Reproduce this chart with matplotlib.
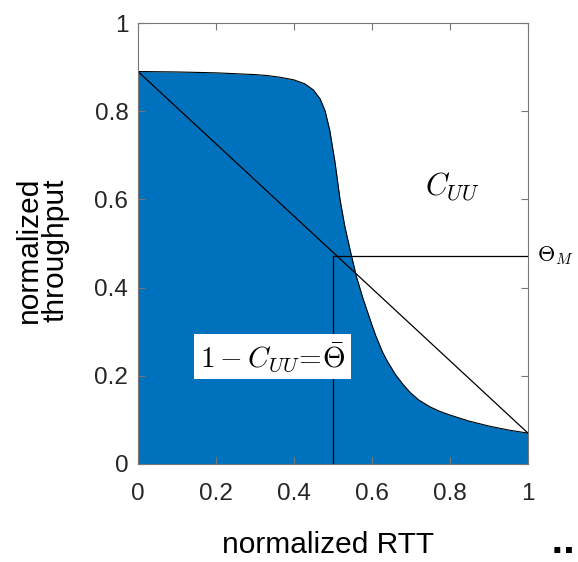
import matplotlib
matplotlib.use('Agg')
import matplotlib.pyplot as plt

# 曲线数据
rtt = [0, 0.1, 0.2, 0.25, 0.3, 0.33, 0.364, 0.4, 0.428, 0.45, 0.467, 0.48, 0.492,
       0.505, 0.518, 0.53, 0.544, 0.56, 0.577, 0.6, 0.61, 0.628, 0.64, 0.66, 0.68,
       0.697, 0.72, 0.75, 0.775, 0.8, 0.85, 0.9, 0.95, 1.0]
thr = [0.89, 0.889, 0.887, 0.885, 0.883, 0.881, 0.877, 0.871, 0.862, 0.848, 0.828,
       0.8, 0.755, 0.685, 0.6, 0.54, 0.485, 0.425, 0.375, 0.315, 0.29, 0.252, 0.232,
       0.203, 0.18, 0.163, 0.145, 0.129, 0.119, 0.111, 0.097, 0.086, 0.077, 0.07]
diag_x = [0, 1]
diag_y = [0.89, 0.07]
theta_x = 0.5
theta_m = 0.472
ticks = [0, 0.2, 0.4, 0.6, 0.8, 1]
tick_labels = ['0', '0.2', '0.4', '0.6', '0.8', '1']

plt.rcParams['mathtext.fontset'] = 'cm'

fig = plt.figure(figsize=(5.78, 5.62), dpi=100)
ax = fig.add_axes([138 / 578, 98 / 562, 390 / 578, 441 / 562])

# 填充区域和曲线
ax.fill_between(rtt, thr, 0, color='#0072BD', linewidth=0)
ax.plot(rtt, thr, color='black', linewidth=0.8)
ax.plot(diag_x, diag_y, color='black', linewidth=0.9)
ax.plot([theta_x, theta_x], [0, theta_m], color='black', linewidth=0.9)
ax.plot([theta_x, 1], [theta_m, theta_m], color='black', linewidth=0.9)

ax.set_xlim(0, 1)
ax.set_ylim(0, 1)
ax.set_xticks(ticks)
ax.set_yticks(ticks)
tick_font = {'family': 'Liberation Sans', 'size': 17.5, 'color': '#262626'}
ax.set_xticklabels(tick_labels, fontdict=tick_font)
ax.set_yticklabels(tick_labels, fontdict=tick_font)
ax.tick_params(direction='in', length=5, width=0.8, color='#777777',
               top=True, right=True)
ax.tick_params(axis='x', pad=14)
ax.tick_params(axis='y', pad=7)
for s in ax.spines.values():
    s.set_color('#777777')
    s.set_linewidth(0.8)

# 文字标注
ax.text(0.805, 0.628, r'$C_{UU}$', fontsize=22, ha='center', va='center')
ax.text(1.024, theta_m, r'$\Theta_M$', fontsize=16, ha='left', va='center',
        clip_on=False)
ax.text(0.345, 0.243, r'$1-C_{UU}\!=\!\bar{\Theta}$', fontsize=21, ha='center', va='center',
        bbox=dict(facecolor='white', edgecolor='none', pad=4))

fig.text(328 / 578, 1 - 545 / 562, 'normalized RTT', family='Liberation Sans',
         fontsize=21.5, ha='center', va='center')
fig.text(42 / 578, 1 - 250 / 562, 'normalized\nthroughput', family='Liberation Sans',
         fontsize=21.5, ha='center', va='center', rotation=90, linespacing=0.95)
fig.text(563 / 578, 0.004, '..', fontsize=24, fontweight='bold', ha='center', va='bottom')

plt.savefig('out.png', dpi=100)
